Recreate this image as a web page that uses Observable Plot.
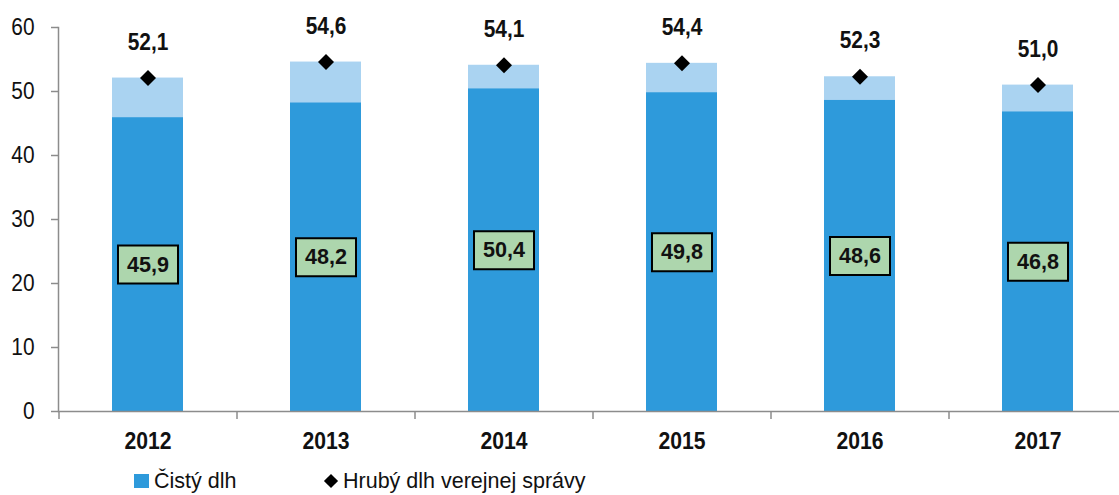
<!DOCTYPE html>
<html>
<head>
<meta charset="utf-8">
<script src="https://cdn.jsdelivr.net/npm/d3@7"></script>
<script src="https://cdn.jsdelivr.net/npm/@observablehq/plot@0.6"></script>
<style>
  body { margin: 0; background: #fff; }
  #wrap { position: relative; width: 1119px; height: 495px; overflow: hidden; font-family: "Liberation Sans", Arial, sans-serif; }
  #legend { position: absolute; left: 0; top: 465px; width: 1119px; height: 30px; font-size: 21.5px; color: #111; }
  .item { position: absolute; top: 4px; display: flex; align-items: center; height: 24px; white-space: nowrap; }
  .sw { width: 15px; height: 14px; background: #2E9ADB; margin-right: 5px; }
  .dia { width: 10px; height: 10px; background: #000; transform: rotate(45deg); margin: 0 7px 0 2px; }
</style>
</head>
<body>
<div id="wrap">
  <div id="chart"></div>
  <div id="legend">
    <div class="item" style="left:134px"><div class="sw"></div><span>Čistý dlh</span></div>
    <div class="item" style="left:324px"><div class="dia"></div><span>Hrubý dlh verejnej správy</span></div>
  </div>
</div>
<script>
const years = ["2012", "2013", "2014", "2015", "2016", "2017"];
const gross = [52.1, 54.6, 54.1, 54.4, 52.3, 51.0];
const net = [45.9, 48.2, 50.4, 49.8, 48.6, 46.8];
const yTicks = [0, 10, 20, 30, 40, 50, 60];

const data = years.map((y, i) => ({year: y, gross: gross[i], net: net[i], mid: net[i] / 2}));
const fmt = v => v.toFixed(1).replace(".", ",");
const font = "'Liberation Sans', Arial, sans-serif";

const boxSymbol = {
  draw(ctx) {
    ctx.moveTo(-30, -19); ctx.lineTo(30, -19); ctx.lineTo(30, 19); ctx.lineTo(-30, 19); ctx.closePath();
  }
};

const chart = Plot.plot({
  width: 1119,
  height: 465,
  marginLeft: 58,
  marginRight: 0,
  marginTop: 27,
  marginBottom: 54,
  style: {fontFamily: font, color: "#111", background: "#fff"},
  x: {domain: years, range: [58, 1127], paddingInner: 0.6, paddingOuter: 0.3, label: null},
  y: {domain: [0, 60], range: [411, 27], label: null},
  marks: [
    Plot.barY(data, {x: "year", y: "gross", fill: "#AAD3F1"}),
    Plot.barY(data, {x: "year", y: "net", fill: "#2E9ADB"}),
    Plot.frame({anchor: "left", stroke: "#8c8c8c", strokeWidth: 1.5}),
    Plot.ruleY([0], {stroke: "#8c8c8c", strokeWidth: 1.5}),
    Plot.axisY({ticks: yTicks, tickSize: 7, tickPadding: 17, stroke: "#8c8c8c", strokeWidth: 1.5, fontSize: 24, fill: "#111", tickFormat: d => String(d), label: null, className: "sq87"}),
    Plot.axisX({tickSize: 8, text: null, dx: 89, stroke: "#8c8c8c", strokeWidth: 1.5}),
    Plot.axisX({ticks: [years[0]], tickSize: 8, text: null, dx: -89, stroke: "#8c8c8c", strokeWidth: 1.5}),
    Plot.axisX({tickSize: 0, tickPadding: 21, fontSize: 23.5, fontWeight: "bold", fill: "#111", label: null, className: "sq90"}),
    Plot.dot(data, {x: "year", y: "gross", symbol: "diamond2", r: 7.2, fill: "#000", stroke: "none"}),
    Plot.text(data, {x: "year", y: "gross", text: d => fmt(d.gross), dy: -36, fontSize: 24, fontWeight: "bold", fill: "#111", className: "sq87"}),
    Plot.dot(data, {x: "year", y: "mid", symbol: boxSymbol, r: 10, fill: "#ADD6AD", stroke: "#000", strokeWidth: 2}),
    Plot.text(data, {x: "year", y: "mid", text: d => fmt(d.net), fontSize: 22.5, fontWeight: "bold", fill: "#111", className: "sq96"})
  ]
});
document.getElementById("chart").appendChild(chart);

// slightly condense the text horizontally, like the reference's narrow glyphs
const squeeze = {sq87: 0.87, sq90: 0.9, sq96: 0.96};
for (const [cls, s] of Object.entries(squeeze)) {
  chart.querySelectorAll("." + cls + " text").forEach(t => {
    const x = +(t.getAttribute("x") || 0);
    const tr = t.getAttribute("transform") || "";
    t.setAttribute("transform", `${tr} translate(${x},0) scale(${s},1) translate(${-x},0)`);
  });
}
</script>
</body>
</html>
